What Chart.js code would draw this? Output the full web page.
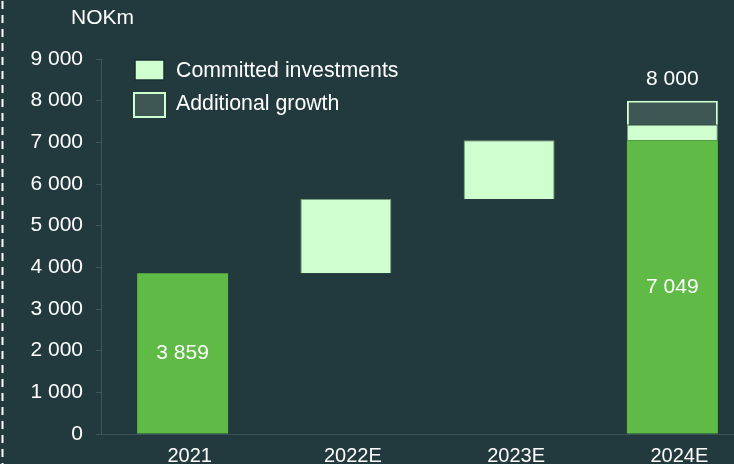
<!DOCTYPE html>
<html>
<head>
<meta charset="utf-8">
<script src="https://cdn.jsdelivr.net/npm/chart.js@4"></script>
<style>
  html, body { margin: 0; padding: 0; background: #223a3e; overflow: hidden; }
  #wrap { position: relative; width: 754px; height: 464px; }
</style>
</head>
<body>
<div id="wrap"><canvas id="chart"></canvas></div>
<script>
// --- data ---
const categories = ['2021', '2022E', '2023E', '2024E'];
const reported = [3859, null, null, 7049];
const committedFrom = [null, 3859, 5640, 7049];
const committedTo = [null, 5640, 7049, 7420];
const growthFrom = [null, null, null, 7420];
const growthTo = [null, null, null, 8000];
const totalLabel = [null, null, null, 8000];
const unitLabel = 'NOKm';
const legendLabels = ['Committed investments', 'Additional growth'];

const GREEN = '#5fba46';
const LIGHT = '#cfffcf';
const DARK = '#3e5755';
const FONT = '"Liberation Sans", Arial, sans-serif';

const fmt = v => String(v).replace(/\B(?=(\d{3})+(?!\d))/g, ' ');

const pairs = (from, to) => from.map((f, i) => (f === null ? null : [f, to[i]]));

const extras = {
    id: 'extras',
    beforeDraw(chart) {
        const ctx = chart.ctx;
        ctx.save();
        ctx.strokeStyle = '#ffffff';
        ctx.lineWidth = 2;
        ctx.setLineDash([8, 6]);
        ctx.beginPath();
        ctx.moveTo(2.5, 1);
        ctx.lineTo(2.5, chart.height);
        ctx.stroke();
        ctx.restore();
    },
    afterDatasetsDraw(chart) {
        const ctx = chart.ctx;
        const area = chart.chartArea;
        ctx.save();
        ctx.font = '21px ' + FONT;
        ctx.fillStyle = '#ffffff';
        ctx.textBaseline = 'middle';

        // value labels inside the green bars
        const baseMeta = chart.getDatasetMeta(0);
        baseMeta.data.forEach((bar, i) => {
            if (reported[i] === null) return;
            ctx.textAlign = 'center';
            ctx.fillText(fmt(reported[i]), bar.x, (bar.y + bar.base) / 2);
        });
        // total above the growth bar
        const growthMeta = chart.getDatasetMeta(2);
        growthMeta.data.forEach((bar, i) => {
            if (totalLabel[i] === null) return;
            ctx.textAlign = 'center';
            ctx.fillText(fmt(totalLabel[i]), bar.x, bar.y - 21);
        });

        // unit
        ctx.textAlign = 'left';
        ctx.fillText(unitLabel, area.left - 30, 18);

        // legend
        const lx = area.left + 34;
        ctx.fillStyle = LIGHT;
        ctx.fillRect(lx, area.top + 1, 29, 20);
        ctx.strokeStyle = '#1b2f32';
        ctx.lineWidth = 1.5;
        ctx.strokeRect(lx, area.top + 1, 29, 20);
        ctx.fillStyle = DARK;
        ctx.fillRect(lx - 1, area.top + 34, 31, 24);
        ctx.strokeStyle = LIGHT;
        ctx.lineWidth = 2;
        ctx.strokeRect(lx - 1, area.top + 34, 31, 24);
        ctx.fillStyle = '#ffffff';
        ctx.font = '21.3px ' + FONT;
        ctx.fillText(legendLabels[0], lx + 41, area.top + 12);
        ctx.fillText(legendLabels[1], lx + 41, area.top + 45);
        ctx.restore();
    }
};

new Chart(document.getElementById('chart'), {
    type: 'bar',
    data: {
        labels: categories,
        datasets: [
            { label: 'Reported', data: reported.map(v => (v === null ? null : [0, v])), backgroundColor: GREEN },
            { label: legendLabels[0], data: pairs(committedFrom, committedTo), backgroundColor: LIGHT, borderColor: 'rgba(130,170,130,0.9)', borderWidth: 1 },
            { label: legendLabels[1], data: pairs(growthFrom, growthTo), backgroundColor: DARK, borderColor: LIGHT, borderWidth: 2 }
        ]
    },
    options: {
        responsive: true,
        maintainAspectRatio: false,
        animation: false,
        grouped: false,
        categoryPercentage: 1,
        barPercentage: 0.557,
        layout: { padding: { top: 59, right: 0, bottom: 0, left: 0 } },
        plugins: { legend: { display: false }, tooltip: { enabled: false } },
        scales: {
            x: {
                grid: { display: false, drawTicks: false },
                border: { display: true, color: '#3a5254', width: 1 },
                ticks: { color: '#ffffff', font: { family: FONT, size: 20 }, padding: 10, labelOffset: 7 },
                afterFit: s => { s.height = 30; }
            },
            y: {
                min: 0,
                max: 9000,
                ticks: { stepSize: 1000, color: '#ffffff', font: { family: FONT, size: 21 }, padding: 13, callback: v => fmt(v) },
                grid: { drawOnChartArea: false, tickLength: 5, color: '#3f5759' },
                border: { color: '#3f5759', width: 1 },
                afterFit: s => { s.width = 101; }
            }
        }
    },
    plugins: [extras]
});
</script>
</body>
</html>
